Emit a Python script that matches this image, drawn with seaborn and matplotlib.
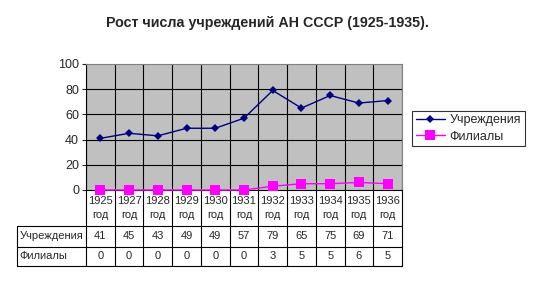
import matplotlib
matplotlib.use("Agg")
import matplotlib.pyplot as plt
import matplotlib.transforms as mtransforms
import seaborn as sns
import pandas as pd
from matplotlib.lines import Line2D

years = ["1925", "1927", "1928", "1929", "1930", "1931", "1932", "1933", "1934", "1935", "1936"]
uchr = [41, 45, 43, 49, 49, 57, 79, 65, 75, 69, 71]
filialy = [0, 0, 0, 0, 0, 0, 3, 5, 5, 6, 5]
series_names = ["Учреждения", "Филиалы"]
title = "Рост числа учреждений АН СССР (1925-1935)."

sns.set_style("white")
plt.rcParams['font.family'] = ['Liberation Sans', 'DejaVu Sans']

W, H = 534, 284
fig = plt.figure(figsize=(W / 100, H / 100), dpi=100)
L, R, T, B = 86, 402, 64, 190
ax = fig.add_axes([L / W, 1 - B / H, (R - L) / W, (B - T) / H])
ax.set_facecolor("#C0C0C0")

n = len(years)
df = pd.DataFrame({
    "pos": list(range(n)) * 2,
    "val": uchr + filialy,
    "series": [series_names[0]] * n + [series_names[1]] * n,
})
colors = {series_names[0]: "#000080", series_names[1]: "#FF00FF"}
sns.lineplot(data=df, x="pos", y="val", hue="series",
             palette=colors, ax=ax, linewidth=1.0,
             legend=False, clip_on=False, zorder=5)
marker_spec = {"#000080": ("D", 4.5), "#ff00ff": ("s", 6.5)}
for line in ax.get_lines():
    c = matplotlib.colors.to_hex(line.get_color()).lower()
    if c in marker_spec:
        m, s = marker_spec[c]
        line.set_marker(m)
        line.set_markersize(s)
        line.set_markeredgewidth(0)
        line.set_markerfacecolor(c)

ax.set_xlim(-0.5, n - 0.5)
ax.set_ylim(0, 100)
ax.set_yticks(range(0, 101, 20))
ax.tick_params(axis="y", labelsize=9, length=3, width=0.8, direction="out", left=True, pad=2)
ax.set_xticks([])
ax.set_xlabel("")
ax.set_ylabel("")
for y in range(20, 100, 20):
    ax.axhline(y, color="black", lw=0.8, zorder=1)
for i in range(n + 1):
    ax.axvline(i - 0.5, color="black", lw=0.8, zorder=1)
for s in ["top", "right"]:
    ax.spines[s].set_color("#808080")
    ax.spines[s].set_linewidth(0.8)
ax.spines["left"].set_color("black")
ax.spines["left"].set_linewidth(0.8)
ax.spines["bottom"].set_color("black")
ax.spines["bottom"].set_linewidth(0.8)

# data table
tr = mtransforms.blended_transform_factory(ax.transData, ax.transAxes)
def ay(py):
    return (B - py) / (B - T)
def axx(px):
    return (px - L) / (R - L)

r1, r2, r3 = 226, 246.7, 266
for i in range(n + 1):
    ax.plot([i - 0.5, i - 0.5], [ay(B), ay(r3)], color="black", lw=0.8,
            transform=tr, clip_on=False)
for py in (r1, r2, r3):
    ax.plot([axx(17), 1], [ay(py), ay(py)], color="black", lw=0.8,
            transform=ax.transAxes, clip_on=False)
ax.plot([axx(17), axx(17)], [ay(r1), ay(r3)], color="black", lw=0.8,
        transform=ax.transAxes, clip_on=False)

fs = 8
for i, yr in enumerate(years):
    ax.text(i, ay((B + r1) / 2), f"{yr}\nгод", transform=tr, ha="center", va="center",
            fontsize=fs, linespacing=1.6)
    ax.text(i, ay((r1 + r2) / 2), str(uchr[i]), transform=tr, ha="center", va="center",
            fontsize=fs)
    ax.text(i, ay((r2 + r3) / 2), str(filialy[i]), transform=tr, ha="center", va="center",
            fontsize=fs)
ax.text(axx(19.5), ay((r1 + r2) / 2), series_names[0], transform=ax.transAxes,
        ha="left", va="center", fontsize=fs)
ax.text(axx(19.5), ay((r2 + r3) / 2), series_names[1], transform=ax.transAxes,
        ha="left", va="center", fontsize=fs)

# legend
handles = [
    Line2D([0], [0], color="#000080", marker="D", markersize=4.5, lw=1, markeredgewidth=0),
    Line2D([0], [0], color="#FF00FF", marker="s", markersize=6.5, lw=1, markeredgewidth=0),
]
leg = fig.legend(handles, series_names, loc="center left",
                 bbox_to_anchor=(412 / W, 1 - 128.5 / H), frameon=True, fancybox=False,
                 edgecolor="black", fontsize=9, handlelength=2.3, borderpad=0.3,
                 labelspacing=0.35, handletextpad=0.4, borderaxespad=0)
leg.get_frame().set_linewidth(0.8)

fig.text(0.5, 1 - 23 / H, title, ha="center", va="center", fontsize=10.3, fontweight="bold")

fig.savefig("out.png", dpi=100)
